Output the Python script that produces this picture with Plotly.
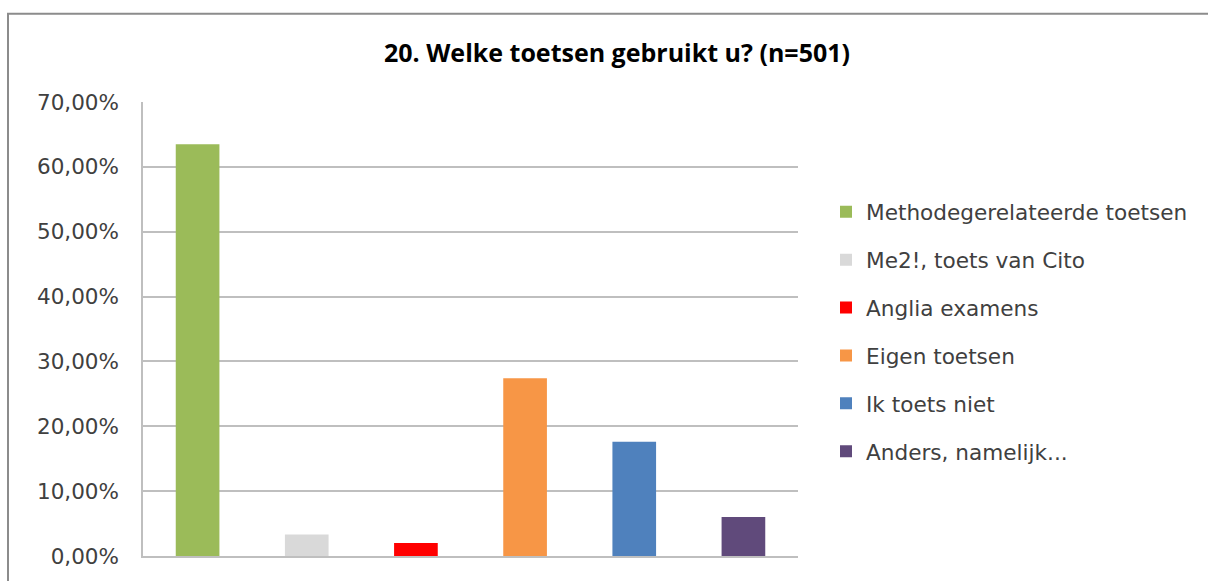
import plotly.graph_objects as go

title_text = "20. Welke toetsen gebruikt u? (n=501)"
categories = ["Methodegerelateerde toetsen", "Me2!, toets van Cito", "Anglia examens",
              "Eigen toetsen", "Ik toets niet", "Anders, namelijk..."]
values = [0.635, 0.033, 0.020, 0.274, 0.176, 0.060]
colors = ["#9BBB59", "#D9D9D9", "#FF0000", "#F79646", "#4F81BD", "#604A7B"]
y_ticks = [0, 0.1, 0.2, 0.3, 0.4, 0.5, 0.6, 0.7]

FONT = "DejaVu Sans"
PL, PR, PT, PB = 143, 798, 102, 560
PW, PH = PR - PL, PB - PT

fig = go.Figure()
for i, (c, v, col) in enumerate(zip(categories, values, colors)):
    fig.add_trace(go.Bar(x=[c], y=[v], name=c, marker=dict(color=col, line=dict(width=0)),
                         width=0.4, legendgroup=f"g{i}"))

fig.update_layout(
    width=1208, height=581,
    margin=dict(l=PL, r=1208 - PR, t=PT, b=581 - PB),
    paper_bgcolor="white", plot_bgcolor="white",
    separators=",.",
    barmode="overlay",
    showlegend=True,
    title=dict(text="<b>" + title_text + "</b>", x=(617 - PL) / PW, xref="paper", xanchor="center",
               y=1 - 53 / 581, yanchor="middle",
               font=dict(family="Open Sans", size=25, color="#000000")),
    font=dict(family=FONT, color="#404040"),
    legend=dict(x=(826 - PL) / PW, xanchor="left", y=(PB - 192) / PH, yanchor="top",
                font=dict(family=FONT, size=21.6, color="#404040"),
                tracegroupgap=16.8, bgcolor="rgba(0,0,0,0)"),
    xaxis=dict(type="category", categoryorder="array", categoryarray=categories,
               showticklabels=False, showgrid=False, range=[-0.5, 5.5],
               showline=True, linecolor="#bfbfbf", linewidth=2, ticks="", zeroline=False),
    yaxis=dict(range=[0, 0.7], tickvals=y_ticks, tickformat=".2%",
               showgrid=True, gridcolor="#bfbfbf", gridwidth=1.5,
               showline=True, linecolor="#bfbfbf", linewidth=1.5, zeroline=False,
               ticks="", ticklabelstandoff=18,
               tickfont=dict(family=FONT, size=21.5, color="#404040")),
    shapes=[dict(type="rect", xref="paper", yref="paper",
                 x0=(8 - PL) / PW, x1=(1240 - PL) / PW,
                 y0=(PB - 610) / PH, y1=(PB - 13) / PH,
                 line=dict(color="#8c8c8c", width=2), fillcolor="rgba(0,0,0,0)", layer="below")],
)

fig.write_html("out.html", config={"displayModeBar": False},
               post_script="document.body.style.margin='0';document.body.style.overflow='hidden';")
